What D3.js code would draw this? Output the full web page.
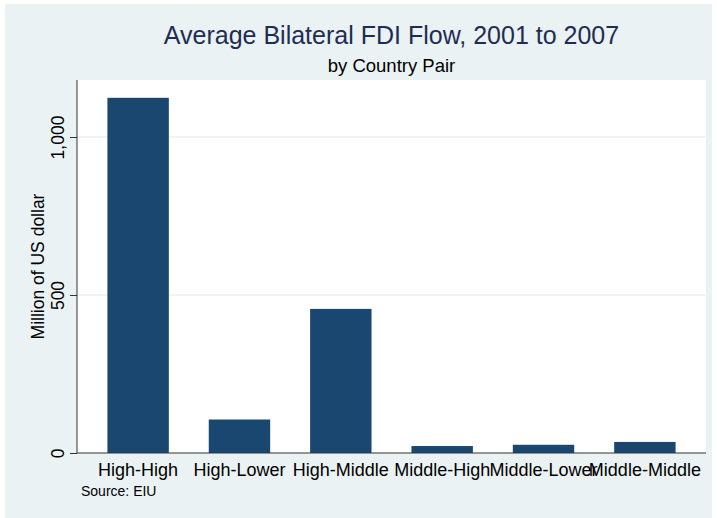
<!DOCTYPE html>
<html>
<head>
<meta charset="utf-8">
<script src="https://cdn.jsdelivr.net/npm/d3@7"></script>
<style>
  body { margin: 0; background: #fff; }
  svg { display: block; font-family: "Liberation Sans", Arial, sans-serif; }
</style>
</head>
<body>
<div id="chart"></div>
<script>
// data
const categories = ["High-High", "High-Lower", "High-Middle", "Middle-High", "Middle-Lower", "Middle-Middle"];
const flows = [1124, 106, 456, 22, 26, 35];
const yTicks = [0, 500, 1000];

const width = 717, height = 518;
const plot = { left: 77, right: 706, top: 80, bottom: 453 };

const svg = d3.select("#chart").append("svg")
    .attr("width", width)
    .attr("height", height);

// outer graph region
svg.append("rect")
    .attr("x", 5).attr("y", 4)
    .attr("width", 707).attr("height", 514)
    .attr("fill", "#eaf2f3");

// plot region
svg.append("rect")
    .attr("x", plot.left).attr("y", plot.top)
    .attr("width", plot.right - plot.left)
    .attr("height", plot.bottom - plot.top)
    .attr("fill", "#fff");

const x = d3.scaleBand()
    .domain(categories)
    .range([plot.left, plot.right])
    .paddingInner(0.394)
    .paddingOuter(0.3);

const y = d3.scaleLinear()
    .domain([0, 1000])
    .range([plot.bottom, plot.bottom - 316]);

// gridlines
svg.append("g")
    .selectAll("line")
    .data(yTicks.filter(d => d > 0))
    .join("line")
    .attr("x1", plot.left).attr("x2", plot.right)
    .attr("y1", d => y(d)).attr("y2", d => y(d))
    .attr("stroke", "#eaf2f3")
    .attr("stroke-width", 1.5);

// bars
svg.append("g")
    .selectAll("rect")
    .data(categories)
    .join("rect")
    .attr("x", d => x(d))
    .attr("width", x.bandwidth())
    .attr("y", (d, i) => y(flows[i]))
    .attr("height", (d, i) => y(0) - y(flows[i]))
    .attr("fill", "#1a476f");

// y axis
const yAxis = svg.append("g")
    .attr("transform", `translate(${plot.left},0)`)
    .call(d3.axisLeft(y).tickValues(yTicks).tickSize(7).tickPadding(0)
        .tickFormat(d3.format(",")));
yAxis.select(".domain").attr("d", `M0,${plot.top}V${plot.bottom}`).attr("stroke", "#333");
yAxis.selectAll(".tick line").attr("stroke", "#333");
yAxis.selectAll(".tick text")
    .attr("transform", "rotate(-90)")
    .attr("x", 0).attr("y", -13).attr("dy", 0)
    .attr("text-anchor", "middle")
    .attr("font-size", 17.5)
    .attr("font-family", "Liberation Sans, Arial, sans-serif")
    .attr("fill", "#000");

// x axis
const xAxis = svg.append("g")
    .attr("transform", `translate(0,${plot.bottom})`)
    .call(d3.axisBottom(x).tickSize(0).tickPadding(0));
xAxis.select(".domain").attr("d", `M${plot.left},0H${plot.right}`).attr("stroke", "#333");
xAxis.selectAll(".tick text")
    .attr("y", 23).attr("dy", 0)
    .attr("font-size", 18)
    .attr("font-family", "Liberation Sans, Arial, sans-serif")
    .attr("fill", "#000");

// axis title
svg.append("text")
    .attr("transform", `translate(44,${(plot.top + plot.bottom) / 2}) rotate(-90)`)
    .attr("text-anchor", "middle")
    .attr("font-size", 17.5)
    .text("Million of US dollar");

// titles
const cx = (plot.left + plot.right) / 2;
svg.append("text")
    .attr("x", cx).attr("y", 44)
    .attr("text-anchor", "middle")
    .attr("font-size", 25)
    .attr("fill", "#1e2d55")
    .text("Average Bilateral FDI Flow, 2001 to 2007");

svg.append("text")
    .attr("x", cx).attr("y", 72)
    .attr("text-anchor", "middle")
    .attr("font-size", 18.5)
    .attr("fill", "#000")
    .text("by Country Pair");

// note
svg.append("text")
    .attr("x", 81).attr("y", 496)
    .attr("font-size", 14)
    .text("Source: EIU");
</script>
</body>
</html>
